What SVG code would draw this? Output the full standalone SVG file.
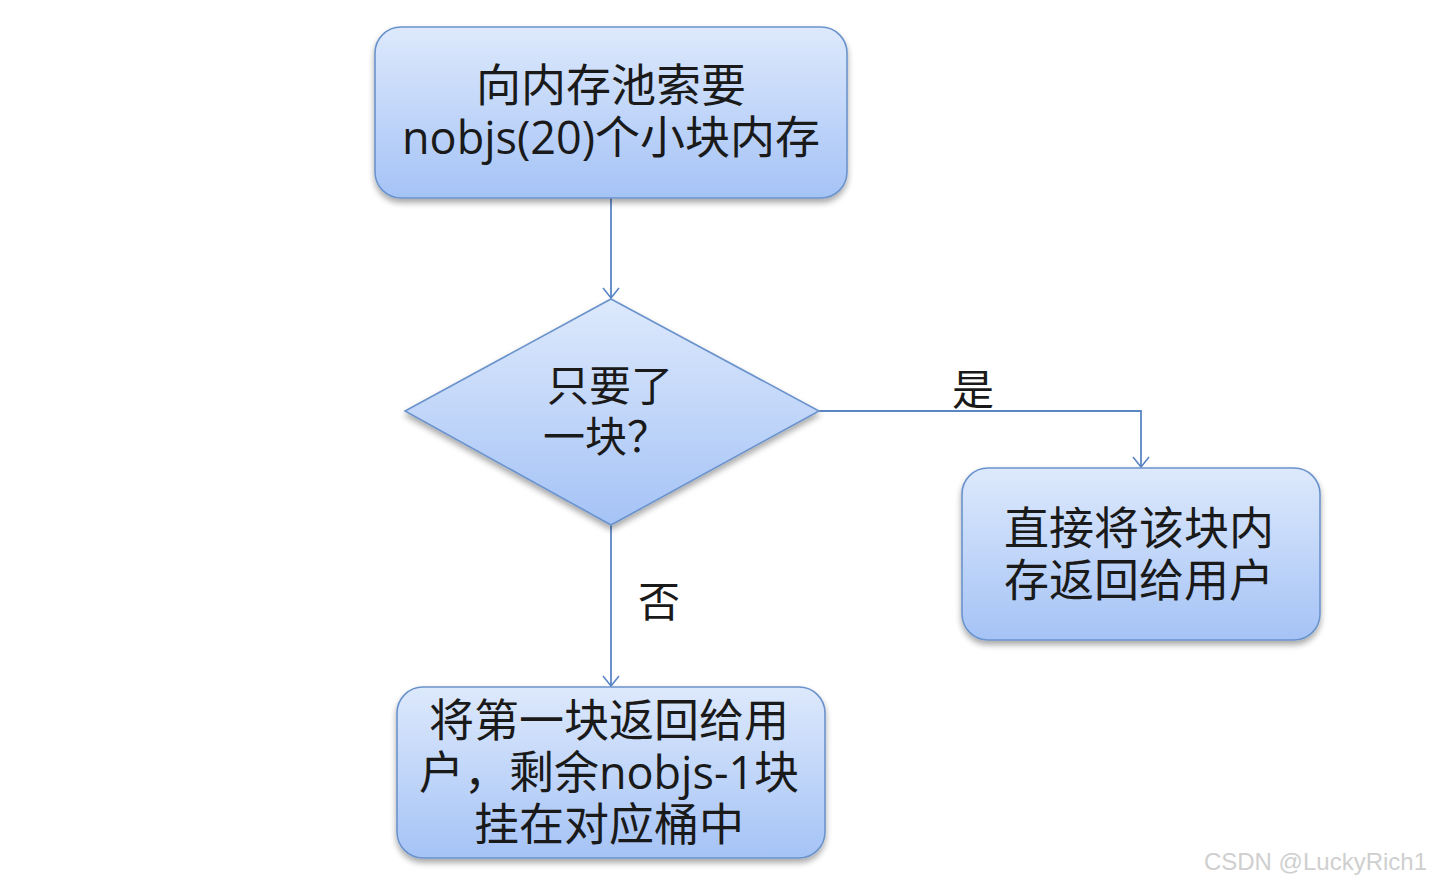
<svg xmlns="http://www.w3.org/2000/svg" width="1432" height="887" viewBox="0 0 1432 887">
<defs>
<linearGradient id="g" x1="0" y1="0" x2="0" y2="1">
<stop offset="0" stop-color="#dde9fc"/>
<stop offset="1" stop-color="#a5c3f6"/>
</linearGradient>
<filter id="sh" x="-10%" y="-10%" width="120%" height="130%">
<feGaussianBlur in="SourceAlpha" stdDeviation="3"/>
<feOffset dx="0" dy="4" result="b"/>
<feComponentTransfer><feFuncA type="linear" slope="0.35"/></feComponentTransfer>
<feMerge><feMergeNode/><feMergeNode in="SourceGraphic"/></feMerge>
</filter>
<marker id="arr" viewBox="0 0 20 20" refX="18" refY="10" markerWidth="20" markerHeight="20" markerUnits="userSpaceOnUse" orient="auto">
<path d="M8,2 L18,10 L8,18" fill="none" stroke="#5b86c4" stroke-width="1.6"/>
</marker>
<style>
.box{fill:url(#g);stroke:#6b93cc;stroke-width:1.6;filter:url(#sh)}
.t{font-family:"Noto Sans CJK SC","Open Sans",sans-serif;font-size:45px;fill:#1a1a1a;text-anchor:middle}
.s{font-family:"Noto Sans CJK SC",serif;font-size:42px;fill:#1a1a1a;text-anchor:middle}
.c{fill:none;stroke:#5b86c4;stroke-width:1.8}
</style>
</defs>
<rect width="1432" height="887" fill="#ffffff"/>
<g id="connectors">
<path class="c" d="M611,198 L611,298" marker-end="url(#arr)"/>
<path class="c" d="M819,411 L1141,411 L1141,467" marker-end="url(#arr)"/>
<path class="c" d="M611,525 L611,686" marker-end="url(#arr)"/>
<text class="s" x="973" y="405">是</text>
<text class="s" x="659" y="617">否</text>
</g>
<g id="n1">
<rect class="box" x="375" y="27" width="472" height="171" rx="26"/>
<text class="t" x="611" y="102">向内存池索要</text>
<text class="t" x="611" y="154"><tspan font-family="'Open Sans',sans-serif">nobjs(20)</tspan>个小块内存</text>
</g>
<g id="n2">
<polygon class="box" points="611,299 819,411 611,525 405,411"/>
<text class="s" x="610" y="401">只要了</text>
<text class="s" x="606" y="452">一块？</text>
</g>
<g id="n3">
<rect class="box" x="962" y="468" width="358" height="172" rx="26"/>
<text class="t" x="1139" y="545">直接将该块内</text>
<text class="t" x="1139" y="597">存返回给用户</text>
</g>
<g id="n4">
<rect class="box" x="397" y="687" width="428" height="171" rx="26"/>
<text class="t" x="609" y="737">将第一块返回给用</text>
<text class="t" x="609" y="789">户，剩余<tspan font-family="'Open Sans',sans-serif">nobjs-1</tspan>块</text>
<text class="t" x="609" y="841">挂在对应桶中</text>
</g>
<text x="1427" y="870" font-family="'Liberation Sans',Arial,sans-serif" font-size="24" fill="#cfcfcf" text-anchor="end">CSDN @LuckyRich1</text>
</svg>
